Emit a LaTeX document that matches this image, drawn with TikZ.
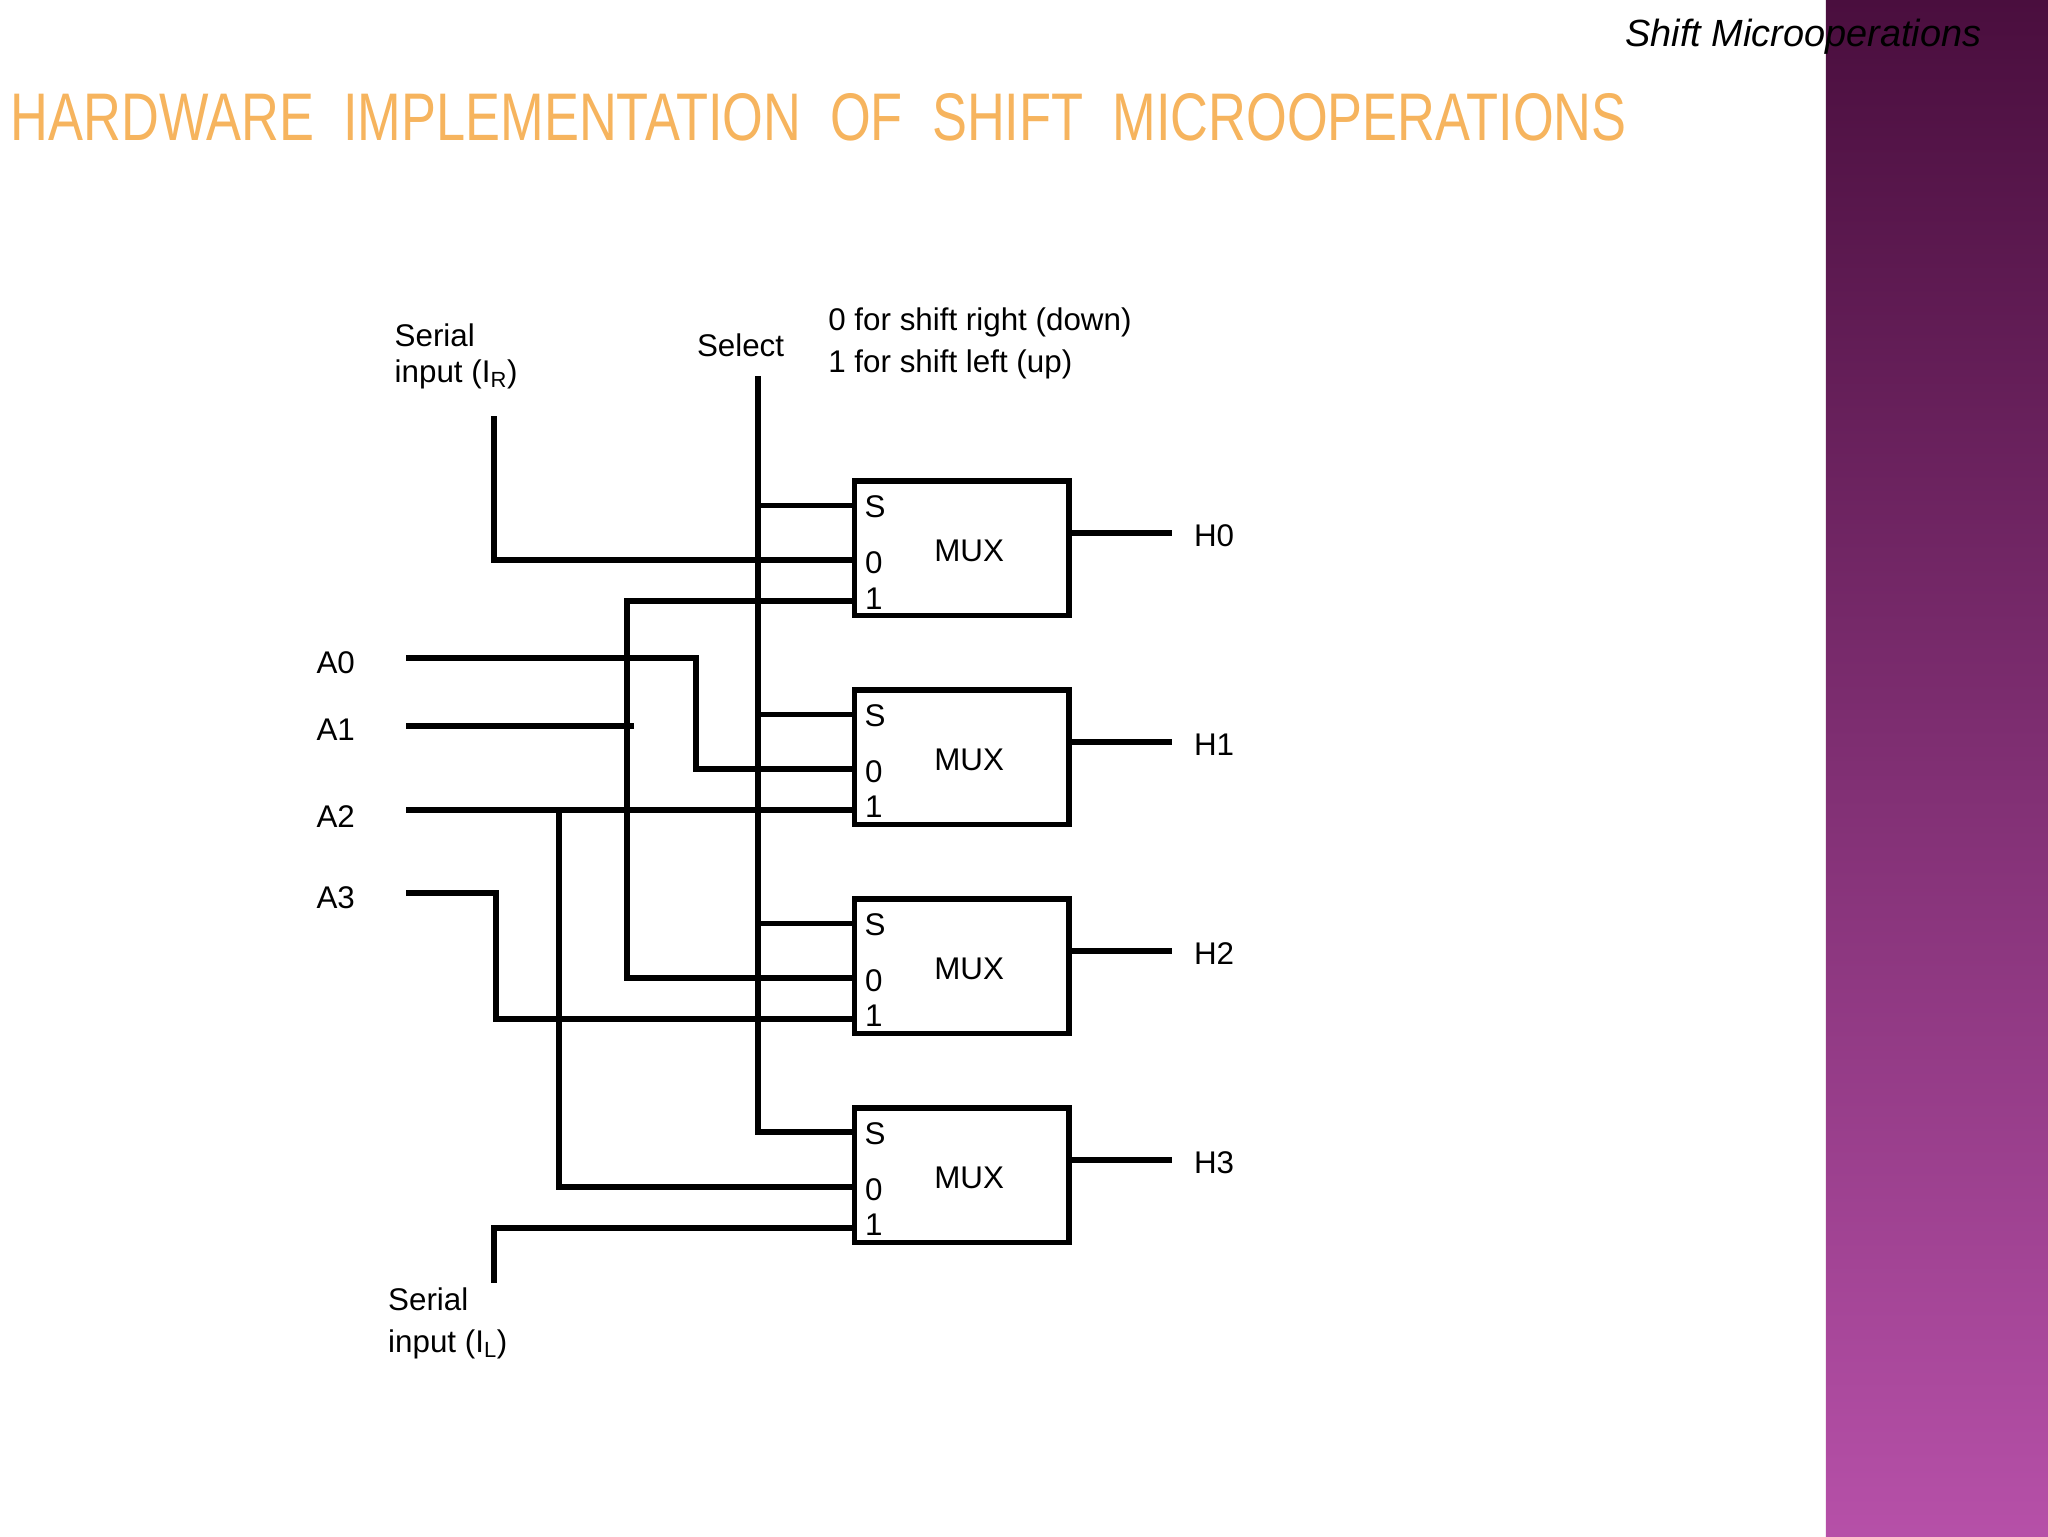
\documentclass[tikz,border=0pt]{standalone}
\usepackage{fontspec}
\setmainfont{Liberation Sans}
\usetikzlibrary{positioning}
\definecolor{bandtop}{HTML}{4A0E3E}
\definecolor{bandbot}{HTML}{B650A8}
\definecolor{titleor}{HTML}{F6B45E}
\definecolor{titleedge}{HTML}{8A4A6A}
\begin{document}
\begin{tikzpicture}[x=1pt,y=-1pt,
  wire/.style={line width=4.5pt,line cap=rect},
  mux/.style={draw,line width=4.5pt,minimum width=164pt,minimum height=103pt,inner sep=0pt},
  lbl/.style={font=\fontsize{24}{28}\selectfont,inner sep=0pt}]
\useasboundingbox (0,0) rectangle (1568,1176);
\shade[top color=bandtop,bottom color=bandbot] (1398,0) rectangle (1568,1176);
\node[lbl,anchor=east,font=\fontsize{29}{32}\selectfont\itshape] (sub) at (1517,28) {Shift Microoperations};
\node[anchor=west,inner sep=0pt] (title) at (8,90) {\resizebox{1237pt}{36pt}{\textcolor{titleor}{HARDWARE\ \ IMPLEMENTATION\ \ OF\ \ SHIFT\ \ MICROOPERATIONS}}};
% muxes
\foreach \i/\t in {0/366,1/526,2/686,3/846}{
  \node[mux,anchor=north west] (m\i) at (652,\t) {};
  \node[lbl] (ml\i) at (742,\t+56) {MUX};
  \node[lbl] (s\i) at (670,\t+22) {S};
  \node[lbl] (z\i) at (669,\t+65) {0};
  \node[lbl] (o\i) at (669,\t+92) {1};
  \coordinate (out\i) at (895,\t+42);
  \draw[wire] (m\i.east |- out\i) -- (out\i);
  \node[lbl,anchor=west] (h\i) at (914,\t+44) {H\i};
  \coordinate (ps\i) at (652,\t+21);
  \coordinate (p0\i) at (652,\t+63);
  \coordinate (p1\i) at (652,\t+94);
}
% select
\node[lbl] (sel) at (567,264) {Select};
\node[lbl,anchor=west,align=left] (note) at (634,263) {0 for shift right (down)\\[4pt]1 for shift left (up)};
\coordinate (selt) at (580,290);
\draw[wire] (selt) |- (ps3);
\foreach \i in {0,1,2}{\draw[wire] (580,0 |- ps\i) -- (ps\i);}
% serial inputs
\node[lbl,anchor=west,align=left] (ir) at (302,273) {Serial\\input (I\textsubscript{R})};
\coordinate (irt) at (378,321);
\draw[wire] (irt) |- (p00);
\node[lbl,anchor=west,align=left] (il) at (297,1013) {Serial\\[4pt]input (I\textsubscript{L})};
\coordinate (ilb) at (378,980);
\draw[wire] (ilb) |- (p13);
% A inputs
\foreach \n/\y in {0/507,1/559,2/625,3/687}{\node[lbl] (a\n) at (257,\y) {A\n};}
\coordinate (a0s) at (313,504); \coordinate (a1s) at (313,556);
\coordinate (a2s) at (313,620); \coordinate (a3s) at (313,684);
\draw[wire] (p10) -| (480,749) -- (p02);
\draw[wire] (a1s) -- (483,556);
\draw[wire] (a0s) -| (533,589) -- (p01);
\draw[wire] (a2s) -- (p11);
\draw[wire] (428,620) |- (p03);
\draw[wire] (a3s) -| (380,780) -- (p12);
\end{tikzpicture}
\end{document}
